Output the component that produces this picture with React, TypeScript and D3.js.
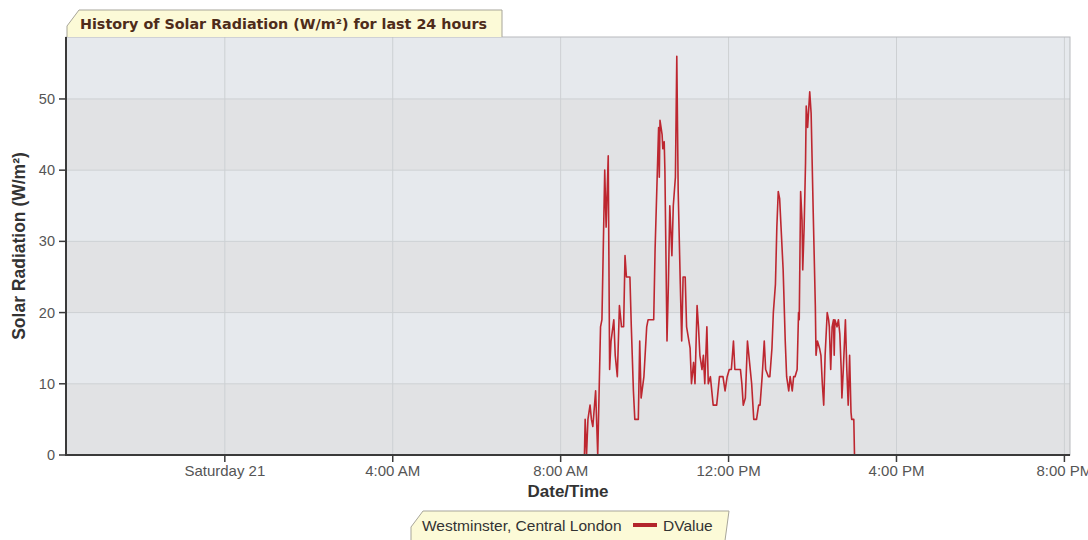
import React, { useEffect, useRef } from 'react';
import * as d3 from 'd3';

const chartTitle = 'History of Solar Radiation (W/m²) for last 24 hours';
const yTitle = 'Solar Radiation (W/m²)';
const xTitle = 'Date/Time';
const stationName = 'Westminster, Central London';
const seriesName = 'DValue';

const windowStart = '2013-12-20 20:13';
const windowEnd = '2013-12-21 20:08';
const day = '2013-12-21';

const xTicks = ['2013-12-21 00:00', '2013-12-21 04:00', '2013-12-21 08:00', '2013-12-21 12:00', '2013-12-21 16:00', '2013-12-21 20:00'];
const yTicks = [0, 10, 20, 30, 40, 50];
const yMax = 58.7;

// readings for the day (time of reading, W/m²)
const times = [
  '08:34', '08:35', '08:37', '08:39', '08:42', '08:44', '08:46', '08:50', '08:53', '08:57',
  '08:59', '09:03', '09:05', '09:08', '09:10', '09:12', '09:16', '09:18', '09:21', '09:24',
  '09:27', '09:30', '09:32', '09:34', '09:39', '09:41', '09:44', '09:46', '09:51', '09:53',
  '09:55', '09:59', '10:03', '10:05', '10:10', '10:13', '10:15', '10:20', '10:21', '10:22',
  '10:25', '10:26', '10:28', '10:29', '10:32', '10:34', '10:36', '10:39', '10:41', '10:44',
  '10:46', '10:48', '10:51', '10:53', '10:55', '10:58', '11:00', '11:05', '11:07', '11:10',
  '11:12', '11:15', '11:17', '11:19', '11:22', '11:24', '11:26', '11:29', '11:31', '11:34',
  '11:38', '11:43', '11:47', '11:52', '11:55', '11:58', '12:01', '12:04', '12:07', '12:09',
  '12:13', '12:17', '12:19', '12:21', '12:24', '12:27', '12:31', '12:33', '12:36', '12:40',
  '12:43', '12:45', '12:48', '12:51', '12:53', '12:57', '12:59', '13:02', '13:04', '13:07',
  '13:09', '13:11', '13:13', '13:15', '13:17', '13:18', '13:21', '13:23', '13:26', '13:28',
  '13:31', '13:33', '13:35', '13:38', '13:40', '13:41', '13:43', '13:45', '13:46', '13:48',
  '13:50', '13:51', '13:53', '13:56', '13:58', '14:01', '14:04', '14:05', '14:07', '14:10',
  '14:12', '14:14', '14:16', '14:18', '14:21', '14:23', '14:24', '14:26', '14:28', '14:30',
  '14:31', '14:32', '14:35', '14:37', '14:39', '14:41', '14:42', '14:44', '14:47', '14:49',
  '14:51', '14:53', '14:55', '14:56', '14:59', '15:00',
];
const values = [
  0, 5, 0, 5, 7, 5, 4, 9, 0, 18,
  19, 40, 32, 42, 12, 16, 19, 14, 11, 21,
  18, 18, 28, 25, 25, 18, 9, 5, 5, 16,
  8, 11, 18, 19, 19, 19, 29, 46, 39, 47,
  45, 43, 44, 40, 16, 24, 35, 28, 35, 39,
  56, 37, 24, 16, 25, 25, 18, 15, 10, 13,
  10, 21, 18, 14, 12, 14, 10, 18, 10, 11,
  7, 7, 11, 11, 9, 11, 12, 12, 16, 12,
  12, 12, 10, 7, 8, 16, 12, 10, 5, 5,
  7, 7, 11, 16, 12, 11, 11, 15, 20, 24,
  32, 37, 36, 32, 28, 26, 16, 11, 9, 11,
  9, 11, 11, 12, 20, 19, 37, 33, 26, 32,
  41, 49, 46, 51, 48, 34, 21, 14, 16, 15,
  14, 10, 7, 14, 20, 19, 18, 12, 18, 19,
  14, 19, 18, 19, 17, 12, 8, 12, 19, 12,
  7, 14, 6, 5, 5, 0,
];

const parse = d3.timeParse('%Y-%m-%d %H:%M');

const App: React.FC = () => {
  const svgRef = useRef<SVGSVGElement>(null);

  useEffect(() => {
    if (!svgRef.current) return;
    const svg = d3.select(svgRef.current);
    svg.selectAll('*').remove();

    const left = 66, right = 1070, top = 37, bottom = 455;
    const sans = '"Liberation Sans", Arial, sans-serif';

    const x = d3.scaleTime()
      .domain([parse(windowStart)!, parse(windowEnd)!])
      .range([left, right]);
    const y = d3.scaleLinear().domain([0, yMax]).range([bottom, top]);

    const data = times.map((t, i) => ({ date: parse(`${day} ${t}`)!, value: values[i] }));

    // background bands
    const bands = d3.range(0, Math.ceil(yMax / 10));
    svg.append('g').selectAll('rect')
      .data(bands)
      .enter()
      .append('rect')
      .attr('x', left)
      .attr('width', right - left)
      .attr('y', d => y(Math.min((d + 1) * 10, yMax)))
      .attr('height', d => y(d * 10) - y(Math.min((d + 1) * 10, yMax)))
      .attr('fill', d => (d % 2 === 0 ? '#e1e2e4' : '#e6e9ed'));

    // grid
    svg.append('g').selectAll('line')
      .data(yTicks.filter(v => v > 0))
      .enter()
      .append('line')
      .attr('x1', left).attr('x2', right)
      .attr('y1', d => y(d)).attr('y2', d => y(d))
      .attr('stroke', '#cdd0d3');
    svg.append('g').selectAll('line')
      .data(xTicks)
      .enter()
      .append('line')
      .attr('x1', d => x(parse(d)!)).attr('x2', d => x(parse(d)!))
      .attr('y1', top).attr('y2', bottom)
      .attr('stroke', '#cdd0d3');

    svg.append('rect')
      .attr('x', left).attr('y', top)
      .attr('width', right - left).attr('height', bottom - top)
      .attr('fill', 'none')
      .attr('stroke', '#b8babd');

    // series
    const line = d3.line<{ date: Date; value: number }>()
      .x(d => x(d.date))
      .y(d => y(d.value));
    svg.append('path')
      .datum(data)
      .attr('d', line)
      .attr('fill', 'none')
      .attr('stroke', '#bd2730')
      .attr('stroke-width', 1.6)
      .attr('stroke-linejoin', 'round');

    // axes
    svg.append('line')
      .attr('x1', left).attr('x2', left).attr('y1', top).attr('y2', bottom + 1)
      .attr('stroke', '#3a3a3a').attr('stroke-width', 2);
    svg.append('line')
      .attr('x1', left - 1).attr('x2', right).attr('y1', bottom).attr('y2', bottom)
      .attr('stroke', '#3a3a3a').attr('stroke-width', 2);

    const yAxis = svg.append('g');
    yAxis.selectAll('line')
      .data(yTicks)
      .enter()
      .append('line')
      .attr('x1', left - 7).attr('x2', left)
      .attr('y1', d => y(d)).attr('y2', d => y(d))
      .attr('stroke', '#3a3a3a').attr('stroke-width', 1.5);
    yAxis.selectAll('text')
      .data(yTicks)
      .enter()
      .append('text')
      .attr('x', left - 11)
      .attr('y', d => y(d))
      .attr('dy', '0.35em')
      .attr('text-anchor', 'end')
      .style('font-family', sans)
      .style('font-size', '14.5px')
      .attr('fill', '#555')
      .text(d => d);

    const xFmt = (d: Date) => (d.getHours() === 0 ? d3.timeFormat('%A %-d')(d) : d3.timeFormat('%-I:%M %p')(d));
    const xAxis = svg.append('g');
    xAxis.selectAll('line')
      .data(xTicks)
      .enter()
      .append('line')
      .attr('x1', d => x(parse(d)!)).attr('x2', d => x(parse(d)!))
      .attr('y1', bottom).attr('y2', bottom + 7)
      .attr('stroke', '#3a3a3a').attr('stroke-width', 1.5);
    xAxis.selectAll('text')
      .data(xTicks)
      .enter()
      .append('text')
      .attr('x', d => x(parse(d)!))
      .attr('y', bottom + 21)
      .attr('text-anchor', 'middle')
      .style('font-family', sans)
      .style('font-size', '15px')
      .attr('fill', '#555')
      .text(d => xFmt(parse(d)!));

    svg.append('text')
      .attr('x', (left + right) / 2)
      .attr('y', 497)
      .attr('text-anchor', 'middle')
      .style('font-family', sans)
      .style('font-size', '17px')
      .style('font-weight', 'bold')
      .attr('fill', '#333')
      .text(xTitle);

    svg.append('text')
      .attr('transform', `translate(25,${(top + bottom) / 2}) rotate(-90)`)
      .attr('text-anchor', 'middle')
      .style('font-family', sans)
      .style('font-size', '17.5px')
      .style('font-weight', 'bold')
      .attr('fill', '#333')
      .text(yTitle);

    // title tab
    svg.append('path')
      .attr('d', 'M67,37 L67,26 L79,10 L502,10 L502,37')
      .attr('fill', '#fcfad7')
      .attr('stroke', '#a7a59a');
    svg.append('text')
      .attr('x', 80)
      .attr('y', 29)
      .style('font-family', '"DejaVu Sans", Verdana, sans-serif')
      .style('font-size', '14.3px')
      .style('font-weight', 'bold')
      .attr('fill', '#4e2c1a')
      .text(chartTitle);

    // legend
    svg.append('path')
      .attr('d', 'M411,548 L411,527 L423,511 L729,511 L724,548 Z')
      .attr('fill', '#fcfad7')
      .attr('stroke', '#a7a59a');
    svg.append('text')
      .attr('x', 422)
      .attr('y', 531)
      .style('font-family', sans)
      .style('font-size', '15.5px')
      .attr('fill', '#333')
      .text(stationName);
    svg.append('line')
      .attr('x1', 633).attr('x2', 657).attr('y1', 525).attr('y2', 525)
      .attr('stroke', '#b3262c').attr('stroke-width', 4);
    svg.append('text')
      .attr('x', 663)
      .attr('y', 531)
      .style('font-family', sans)
      .style('font-size', '15.5px')
      .attr('fill', '#333')
      .text(seriesName);
  }, []);

  return (
    <svg
      ref={svgRef}
      width={1088}
      height={540}
      style={{ position: 'absolute', left: 0, top: 0, background: '#fff' }}
    />
  );
};

export default App;
